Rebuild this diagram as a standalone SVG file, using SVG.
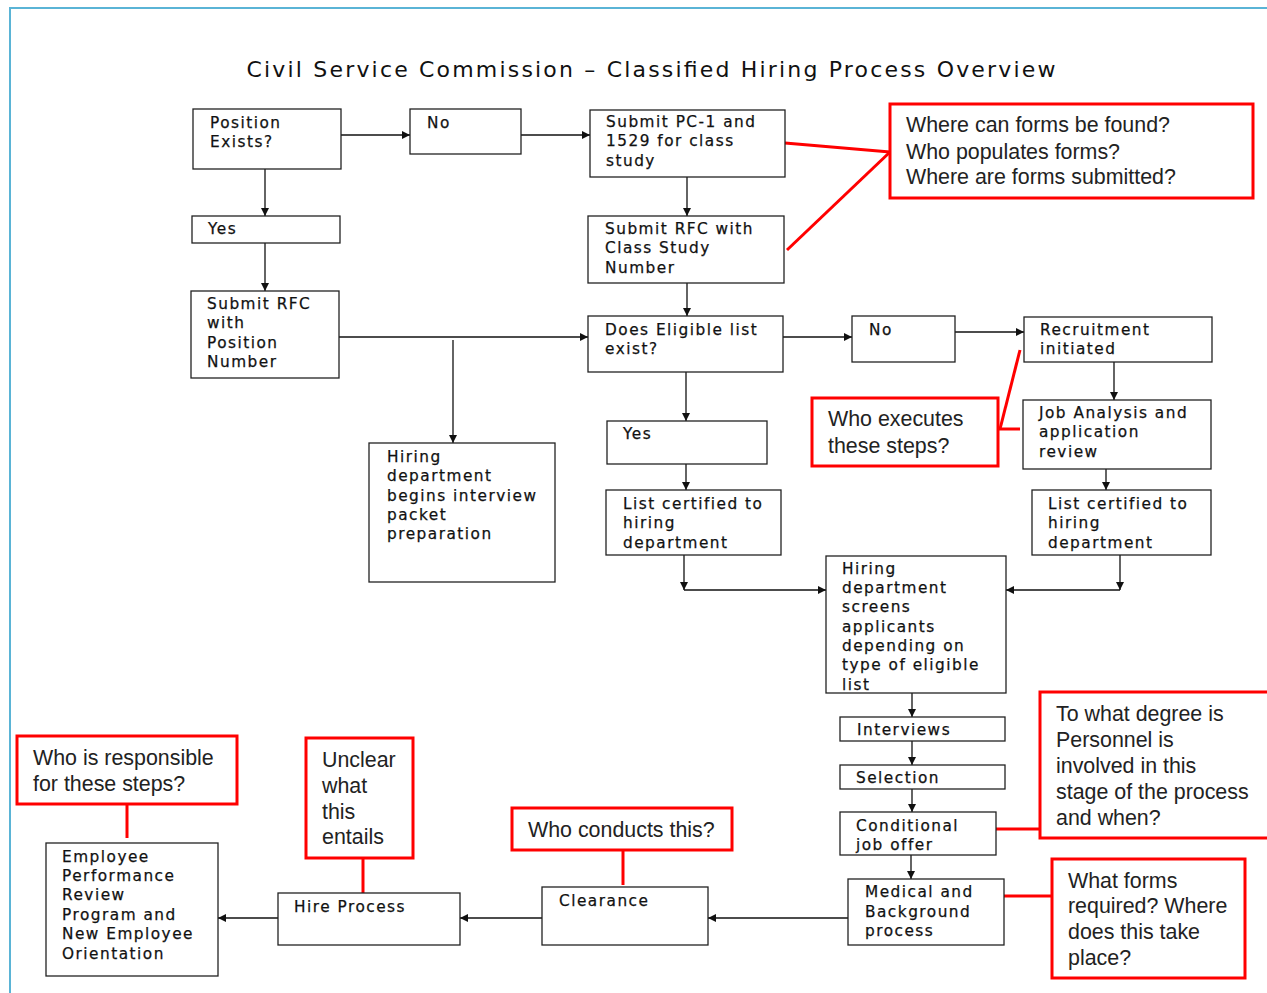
<svg xmlns="http://www.w3.org/2000/svg" width="1267" height="993" viewBox="0 0 1267 993">
<style>
.n rect{fill:#fff;stroke:#222;stroke-width:1.3}
.n text{font-family:"DejaVu Sans",sans-serif;font-size:15.3px;letter-spacing:1.5px;fill:#111;stroke:#111;stroke-width:0.25}
.c rect{fill:#fff;stroke:#f00;stroke-width:3}
.c text{font-family:"Liberation Sans",Arial,sans-serif;font-size:21.4px;fill:#222}
.e line,.e polyline{stroke:#111;stroke-width:1.3;fill:none}
.r line,.r polyline{stroke:#f00;stroke-width:3;fill:none}
</style>
<defs>
<marker id="a" viewBox="0 0 10 10" refX="10" refY="5" markerWidth="10" markerHeight="8" markerUnits="userSpaceOnUse" orient="auto">
<path d="M0,0L10,5L0,10z" fill="#111"/>
</marker>
<clipPath id="clipScreens"><rect x="826" y="556" width="180" height="135"/></clipPath>
</defs>
<rect width="1267" height="993" fill="#fff"/>
<polyline points="10,993 10,8 1267,8" fill="none" stroke="#5ab4d6" stroke-width="2"/>
<text x="651" y="77" text-anchor="middle" textLength="809" lengthAdjust="spacing" font-family="DejaVu Sans, sans-serif" font-size="22" fill="#111">Civil Service Commission – Classified Hiring Process Overview</text>

<g class="e" id="connectors">
<line x1="341" y1="135" x2="410" y2="135" marker-end="url(#a)"/>
<line x1="521" y1="135" x2="590" y2="135" marker-end="url(#a)"/>
<line x1="265" y1="169" x2="265" y2="216" marker-end="url(#a)"/>
<line x1="265" y1="243" x2="265" y2="291" marker-end="url(#a)"/>
<line x1="339" y1="337" x2="588" y2="337" marker-end="url(#a)"/>
<line x1="453" y1="340" x2="453" y2="443" marker-end="url(#a)"/>
<line x1="687" y1="177" x2="687" y2="216" marker-end="url(#a)"/>
<line x1="687" y1="283" x2="687" y2="316" marker-end="url(#a)"/>
<line x1="783" y1="337" x2="852" y2="337" marker-end="url(#a)"/>
<line x1="955" y1="332" x2="1024" y2="332" marker-end="url(#a)"/>
<line x1="686" y1="372" x2="686" y2="421" marker-end="url(#a)"/>
<line x1="686" y1="464" x2="686" y2="490" marker-end="url(#a)"/>
<line x1="684" y1="555" x2="684" y2="590" marker-end="url(#a)"/>
<line x1="684" y1="590" x2="826" y2="590" marker-end="url(#a)"/>
<line x1="1114" y1="362" x2="1114" y2="400" marker-end="url(#a)"/>
<line x1="1106" y1="469" x2="1106" y2="490" marker-end="url(#a)"/>
<line x1="1120" y1="555" x2="1120" y2="590" marker-end="url(#a)"/>
<line x1="1120" y1="590" x2="1006" y2="590" marker-end="url(#a)"/>
<line x1="912" y1="693" x2="912" y2="717" marker-end="url(#a)"/>
<line x1="912" y1="741" x2="912" y2="765" marker-end="url(#a)"/>
<line x1="912" y1="789" x2="912" y2="812" marker-end="url(#a)"/>
<line x1="911" y1="855" x2="911" y2="879" marker-end="url(#a)"/>
<line x1="848" y1="918" x2="708" y2="918" marker-end="url(#a)"/>
<line x1="542" y1="918" x2="460" y2="918" marker-end="url(#a)"/>
<line x1="278" y1="918" x2="218" y2="918" marker-end="url(#a)"/>
</g>

<g class="r" id="callout-lines">
<line x1="785" y1="143" x2="890" y2="152"/>
<line x1="787" y1="250" x2="890" y2="152"/>
<line x1="1020" y1="350" x2="1000" y2="429"/>
<line x1="998" y1="429" x2="1020" y2="429"/>
<line x1="995" y1="829" x2="1040" y2="829"/>
<line x1="1004" y1="896" x2="1052" y2="896"/>
<line x1="127" y1="804" x2="127" y2="838"/>
<line x1="363" y1="858" x2="363" y2="893"/>
<line x1="623" y1="850" x2="623" y2="885"/>
</g>

<g class="n" id="position-exists"><rect x="193" y="109" width="148" height="60"/><text x="210" y="128">Position</text><text x="210" y="147">Exists?</text></g>
<g class="n" id="no-top"><rect x="410" y="109" width="111" height="45"/><text x="427" y="128">No</text></g>
<g class="n" id="submit-pc1"><rect x="590" y="110" width="195" height="67"/><text x="606" y="127">Submit PC-1 and</text><text x="606" y="146">1529 for class</text><text x="606" y="166">study</text></g>
<g class="n" id="yes-left"><rect x="192" y="216" width="148" height="27"/><text x="208" y="234">Yes</text></g>
<g class="n" id="submit-rfc-position"><rect x="191" y="291" width="148" height="87"/><text x="207" y="309">Submit RFC</text><text x="207" y="328">with</text><text x="207" y="348">Position</text><text x="207" y="367">Number</text></g>
<g class="n" id="submit-rfc-class"><rect x="588" y="216" width="196" height="67"/><text x="605" y="234">Submit RFC with</text><text x="605" y="253">Class Study</text><text x="605" y="273">Number</text></g>
<g class="n" id="eligible-list"><rect x="588" y="316" width="195" height="56"/><text x="605" y="335">Does Eligible list</text><text x="605" y="354">exist?</text></g>
<g class="n" id="no-right"><rect x="852" y="316" width="103" height="46"/><text x="869" y="335">No</text></g>
<g class="n" id="recruitment"><rect x="1024" y="317" width="188" height="45"/><text x="1040" y="335">Recruitment</text><text x="1040" y="354">initiated</text></g>
<g class="n" id="interview-packet"><rect x="369" y="443" width="186" height="139"/><text x="387" y="462">Hiring</text><text x="387" y="481">department</text><text x="387" y="501">begins interview</text><text x="387" y="520">packet</text><text x="387" y="539">preparation</text></g>
<g class="n" id="yes-mid"><rect x="607" y="421" width="160" height="43"/><text x="623" y="439">Yes</text></g>
<g class="n" id="list-certified-mid"><rect x="606" y="490" width="175" height="65"/><text x="623" y="509">List certified to</text><text x="623" y="528">hiring</text><text x="623" y="548">department</text></g>
<g class="n" id="job-analysis"><rect x="1023" y="400" width="188" height="69"/><text x="1039" y="418">Job Analysis and</text><text x="1039" y="437">application</text><text x="1039" y="457">review</text></g>
<g class="n" id="list-certified-right"><rect x="1032" y="490" width="179" height="65"/><text x="1048" y="509">List certified to</text><text x="1048" y="528">hiring</text><text x="1048" y="548">department</text></g>
<g class="n" id="screens"><rect x="826" y="556" width="180" height="137"/><g clip-path="url(#clipScreens)"><text x="842" y="574">Hiring</text><text x="842" y="593">department</text><text x="842" y="612">screens</text><text x="842" y="632">applicants</text><text x="842" y="651">depending on</text><text x="842" y="670">type of eligible</text><text x="842" y="690">list</text></g></g>
<g class="n" id="interviews"><rect x="840" y="717" width="165" height="24"/><text x="857" y="735">Interviews</text></g>
<g class="n" id="selection"><rect x="840" y="765" width="165" height="24"/><text x="856" y="783">Selection</text></g>
<g class="n" id="conditional"><rect x="840" y="812" width="156" height="43"/><text x="856" y="831">Conditional</text><text x="856" y="850">job offer</text></g>
<g class="n" id="medical"><rect x="848" y="879" width="156" height="66"/><text x="865" y="897">Medical and</text><text x="865" y="917">Background</text><text x="865" y="936">process</text></g>
<g class="n" id="clearance"><rect x="542" y="887" width="166" height="58"/><text x="559" y="906">Clearance</text></g>
<g class="n" id="hire-process"><rect x="278" y="893" width="182" height="52"/><text x="294" y="912">Hire Process</text></g>
<g class="n" id="employee-review"><rect x="46" y="843" width="172" height="133"/><text x="62" y="862">Employee</text><text x="62" y="881">Performance</text><text x="62" y="900">Review</text><text x="62" y="920">Program and</text><text x="62" y="939">New Employee</text><text x="62" y="959">Orientation</text></g>

<g class="c" id="q-forms"><rect x="890" y="104" width="363" height="94"/><text x="906" y="132">Where can forms be found?</text><text x="906" y="159">Who populates forms?</text><text x="906" y="184">Where are forms submitted?</text></g>
<g class="c" id="q-executes"><rect x="812" y="398" width="186" height="68"/><text x="828" y="426">Who executes</text><text x="828" y="453">these steps?</text></g>
<g class="c" id="q-personnel"><rect x="1040" y="692" width="240" height="146"/><text x="1056" y="721">To what degree is</text><text x="1056" y="747">Personnel is</text><text x="1056" y="773">involved in this</text><text x="1056" y="799">stage of the process</text><text x="1056" y="825">and when?</text></g>
<g class="c" id="q-medical"><rect x="1052" y="859" width="193" height="119"/><text x="1068" y="888">What forms</text><text x="1068" y="913">required? Where</text><text x="1068" y="939">does this take</text><text x="1068" y="965">place?</text></g>
<g class="c" id="q-responsible"><rect x="17" y="736" width="220" height="68"/><text x="33" y="765">Who is responsible</text><text x="33" y="791">for these steps?</text></g>
<g class="c" id="q-unclear"><rect x="306" y="738" width="107" height="120"/><text x="322" y="767">Unclear</text><text x="322" y="793">what</text><text x="322" y="819">this</text><text x="322" y="844">entails</text></g>
<g class="c" id="q-conducts"><rect x="512" y="808" width="220" height="42"/><text x="528" y="837">Who conducts this?</text></g>
</svg>
